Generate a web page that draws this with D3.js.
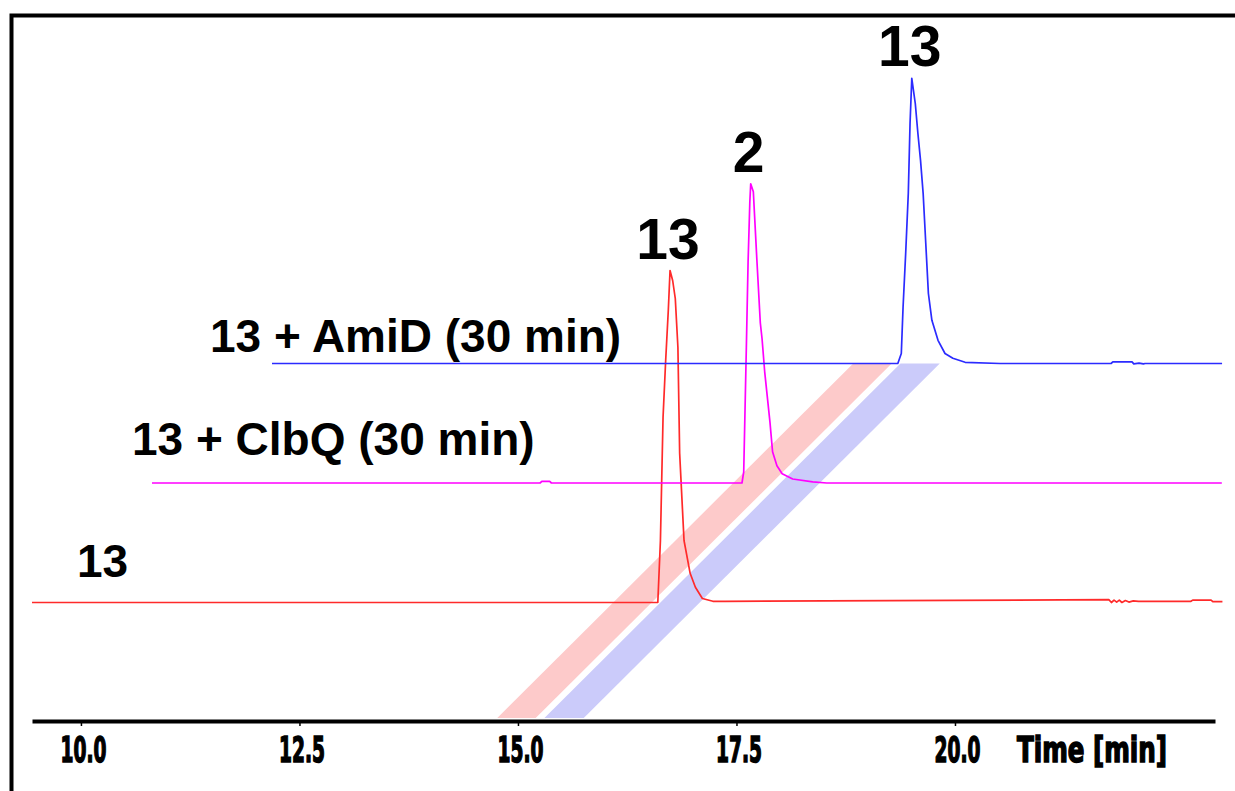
<!DOCTYPE html>
<html>
<head>
<meta charset="utf-8">
<script src="https://cdn.jsdelivr.net/npm/d3@7"></script>
<style>
	body { margin: 0; background: #fff; }
	svg { display: block; }
</style>
</head>
<body>
<div id="chart"></div>
<script>
	// chromatograms, retention time in min, absorbance in mAU
	var traceNames = ["13", "13 + ClbQ (30 min)", "13 + AmiD (30 min)"];
	var traceColors = ["#ff2a2a", "#ff00ff", "#2b2bff"];
	var peakLabels = ["13", "2", "13"];

	var redTime = [9.44, 16.60, 16.63, 16.66, 16.69, 16.72, 16.74, 16.77, 16.80, 16.83, 16.85, 16.90, 16.97, 17.03, 17.11, 17.23, 17.37,
		21.76, 21.79, 21.82, 21.85, 21.88, 21.91, 21.95, 21.99, 22.04, 22.10, 22.20, 22.70, 22.72, 22.93, 22.95, 23.06];
	var redAbs = [0, 0, 155, 463, 605, 730, 830, 805, 760, 638, 373, 155, 73, 38, 10, 3,
		3, 7, 0, 6, 1, 6, 0, 5, 1, 4, 3, 3, 3, 6, 6, 2, 2];

	var magentaTime = [9.44, 13.88, 13.90, 13.99, 14.01, 16.19, 16.21, 16.24, 16.26, 16.28, 16.29, 16.32, 16.36, 16.40, 16.42,
		16.45, 16.51, 16.54, 16.59, 16.65, 16.77, 17.00, 17.16, 21.68];
	var magentaAbs = [0, 0, 4, 4, 0, 0, 28, 338, 553, 703, 748, 728, 560, 400, 360,
		278, 153, 78, 43, 23, 10, 3, 0, 0];

	var blueTime = [9.44, 16.60, 16.64, 16.66, 16.69, 16.72, 16.74, 16.76, 16.80, 16.83, 16.86, 16.89, 16.92, 16.95, 16.99,
		17.06, 17.14, 17.23, 17.37, 17.77, 19.04, 19.06, 19.28, 19.30, 19.36, 19.41, 19.43, 20.31];
	var blueAbs = [0, 0, 25, 140, 275, 425, 600, 713, 650, 575, 508, 425, 300, 175, 108,
		58, 25, 13, 3, 0, 0, 4, 4, -1, 1, -1, 0, 0];

	// highlighted retention windows (min)
	var bandRanges = [[16.09, 16.53], [16.63, 17.08]];
	var bandColors = ["#fdcaca", "#cbcbfa"];

	var tickValues = [10, 12.5, 15, 17.5, 20];

	var width = 1235, height = 791;

	var svg = d3.select("#chart").append("svg")
		.attr("width", width)
		.attr("height", height);

	var x = d3.scaleLinear().domain([9.44, 22.975]).range([32, 1215]);
	var y = d3.scaleLinear().domain([0, 1000]).range([0, 400]);
	// waterfall offset of each trace
	var base = d3.scaleLinear().domain([0, 2]).range([602.5, 363.5]);
	var shift = d3.scaleLinear().domain([0, 2]).range([0, 240]);

	var axisY = 721;
	var condensed = "'Liberation Sans Narrow', 'DejaVu Sans Condensed', sans-serif";

	var traces = [
		redTime.map(function(t, i) { return { t: t, v: redAbs[i] }; }),
		magentaTime.map(function(t, i) { return { t: t, v: magentaAbs[i] }; }),
		blueTime.map(function(t, i) { return { t: t, v: blueAbs[i] }; })
	];

	// bands run from the axis up to the last baseline
	var bottomDepth = base.invert(axisY - 3);
	svg.selectAll("polygon.band")
		.data(bandRanges)
		.enter().append("polygon")
		.attr("class", "band")
		.attr("fill", function(d, i) { return bandColors[i]; })
		.attr("points", function(d) {
			var pts = [[d[0], bottomDepth], [d[1], bottomDepth], [d[1], 2], [d[0], 2]];
			return pts.map(function(p) { return [x(p[0]) + shift(p[1]), base(p[1])].join(","); }).join(" ");
		});

	// frame
	svg.append("path")
		.attr("d", "M11.5," + height + "V15.5H" + width)
		.attr("fill", "none")
		.attr("stroke", "#000")
		.attr("stroke-width", 4);

	traces.forEach(function(tr, k) {
		var line = d3.line()
			.x(function(d) { return x(d.t) + shift(k); })
			.y(function(d) { return base(k) - y(d.v); });

		svg.append("path")
			.datum(tr)
			.attr("fill", "none")
			.attr("stroke", traceColors[k])
			.attr("stroke-width", 1.7)
			.attr("stroke-linejoin", "round")
			.attr("d", line);

		var top = tr.reduce(function(a, b) { return b.v > a.v ? b : a; });
		svg.append("text")
			.attr("x", x(top.t) + shift(k) - 2)
			.attr("y", base(k) - y(top.v) - 12)
			.attr("text-anchor", "middle")
			.style("font-family", "'Liberation Sans', Arial, sans-serif")
			.style("font-weight", "bold")
			.style("font-size", "57px")
			.text(peakLabels[k]);
	});

	// trace names
	var namePos = [[77, 577], [132, 455], [210, 352]];
	svg.selectAll("text.name")
		.data(traceNames)
		.enter().append("text")
		.attr("class", "name")
		.attr("x", function(d, i) { return namePos[i][0]; })
		.attr("y", function(d, i) { return namePos[i][1]; })
		.style("font-family", "'Liberation Sans', Arial, sans-serif")
		.style("font-weight", "bold")
		.style("font-size", "46px")
		.text(function(d) { return d; });

	// time axis
	var axis = svg.append("g")
		.attr("transform", "translate(0," + axisY + ")")
		.call(d3.axisBottom(x)
			.tickValues(tickValues)
			.tickFormat(d3.format(".1f"))
			.tickSize(5)
			.tickSizeOuter(0));

	axis.select(".domain")
		.attr("stroke", "#000")
		.attr("stroke-width", 4);
	axis.selectAll(".tick line")
		.attr("stroke", "#000")
		.attr("stroke-width", 1.5);
	axis.selectAll(".tick text")
		.attr("y", 41)
		.attr("dy", null)
		.attr("dx", 2)
		.attr("textLength", 46)
		.attr("lengthAdjust", "spacingAndGlyphs")
		.attr("fill", "#000")
		.attr("stroke", "#000")
		.attr("stroke-width", 1.5)
		.style("font-family", condensed)
		.style("font-weight", "bold")
		.style("font-size", "35px");

	axis.append("text")
		.attr("x", 1017)
		.attr("y", 41)
		.attr("textLength", 150)
		.attr("lengthAdjust", "spacingAndGlyphs")
		.attr("fill", "#000")
		.attr("stroke", "#000")
		.attr("stroke-width", 1.5)
		.attr("text-anchor", "start")
		.style("font-family", condensed)
		.style("font-weight", "bold")
		.style("font-size", "35px")
		.text("Time [min]");
</script>
</body>
</html>
